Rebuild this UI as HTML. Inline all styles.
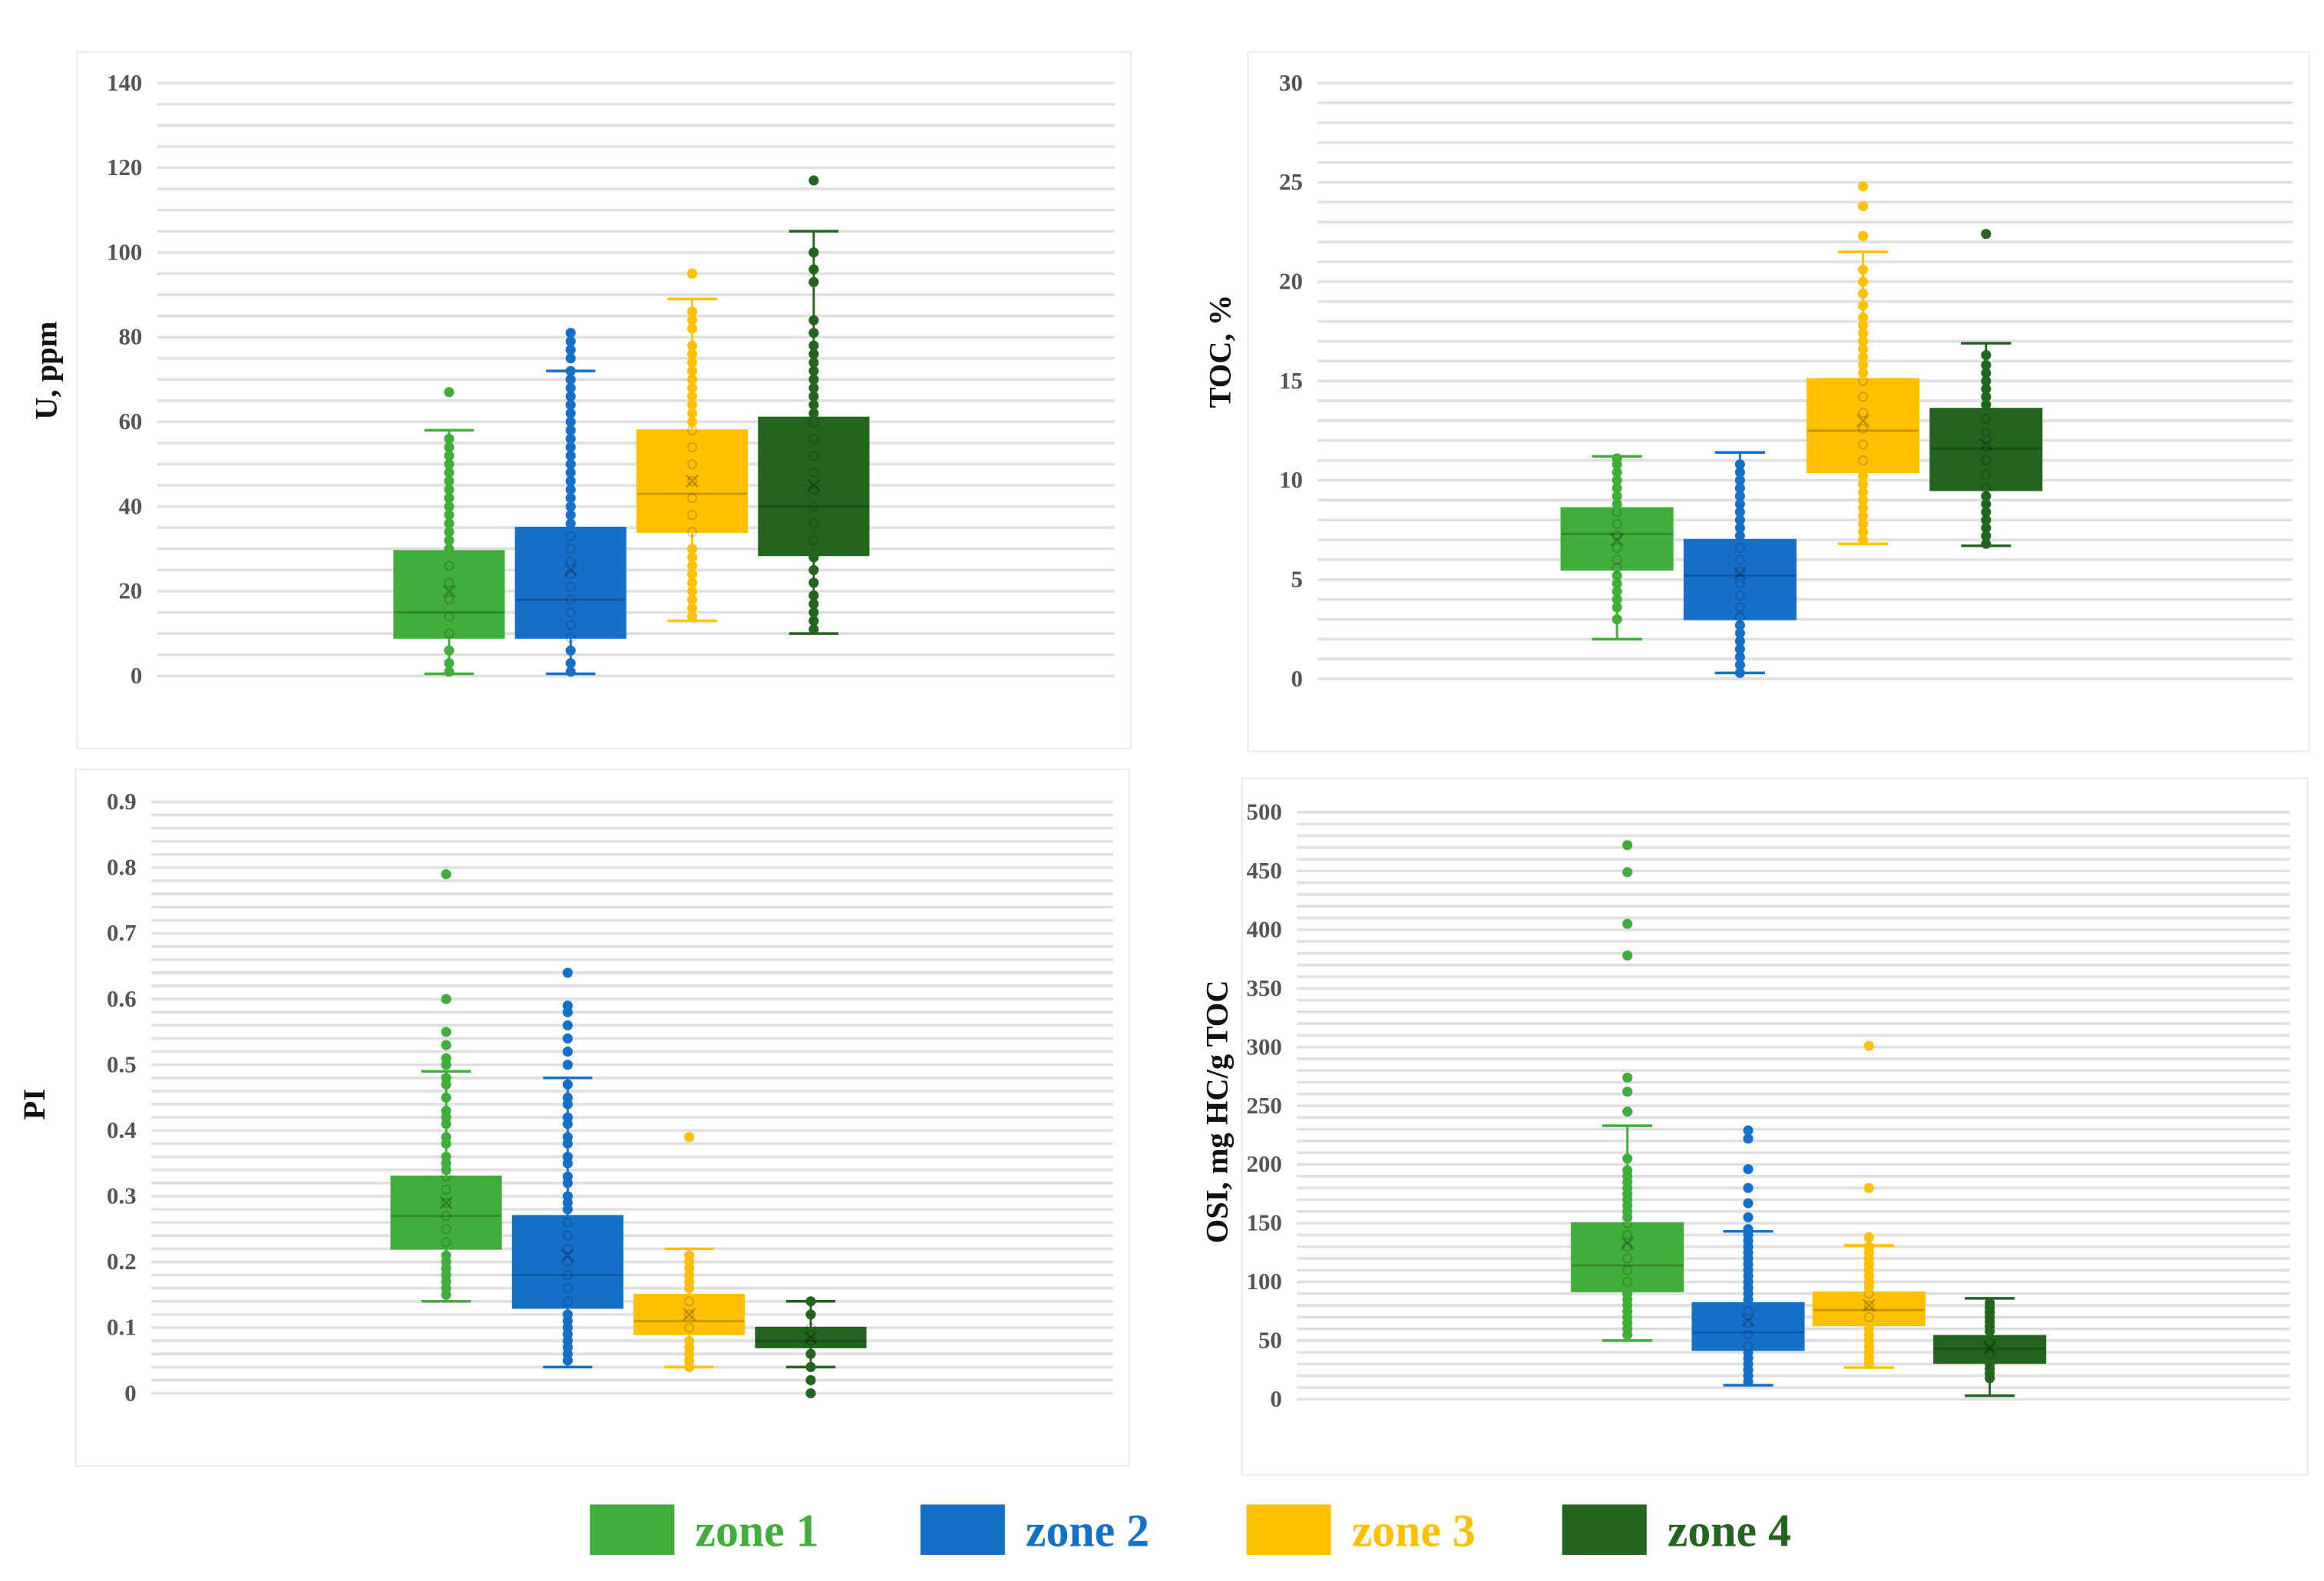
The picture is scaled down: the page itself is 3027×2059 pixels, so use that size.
<!DOCTYPE html>
<html><head><meta charset="utf-8"><title>Zone box plots</title>
<style>html,body{margin:0;padding:0;background:#fff;}svg{display:block;}</style></head>
<body>
<svg id="chart" width="3027" height="2059" viewBox="0 0 1568 1066.6" xmlns="http://www.w3.org/2000/svg"></svg>
<script>
const zones = ["zone 1","zone 2","zone 3","zone 4"];
const colors = ["#41AD3B","#1570C9","#FFC000","#23651F"];
// U, ppm: [min, q1, median, q3, max, mean]
const uStats = [[0.5,9,15,29.5,58,20],[0.5,9,18,35,72,25],[13,34,43,58,89,46],[10,28.5,40,61,105,45]];
const uPoints = [[1,3,6,10,14,18,22,26,30,32,34,36,38,40,42,44,46,48,50,52,54,56,67],[1,3,6,9,12,15,18,21,24,27,30,33,36,38,40,42,44,46,48,50,52,54,56,58,60,62,64,66,68,70,72,75,77,79,81],[14,16,18,20,22,24,26,28,30,34,38,42,46,50,54,58,60,62,64,66,68,70,72,74,76,78,82,84,86,95],[11,13,15,17,19,22,25,28,32,36,40,44,48,52,56,60,62,64,66,68,70,72,74,76,78,81,84,93,96,100,117]];
const uTicks = [0,20,40,60,80,100,120,140];
// TOC, %
const tocStats = [[2,5.5,7.3,8.6,11.2,7],[0.3,3,5.2,7,11.4,5.3],[6.8,10.4,12.5,15.1,21.5,13],[6.7,9.5,11.6,13.6,16.9,11.8]];
const tocPoints = [[3,3.6,4,4.4,4.8,5.2,5.6,6,6.6,7.2,7.8,8.4,8.8,9.2,9.6,10,10.4,10.8,11.1],[0.3,0.7,1.1,1.5,1.9,2.3,2.7,3.1,3.6,4.2,4.8,5.4,6,6.6,7.2,7.6,8,8.4,8.8,9.2,9.6,10,10.4,10.8],[7,7.4,7.8,8.2,8.6,9,9.4,9.8,10.2,11,11.8,12.6,13.4,14.2,15,15.4,15.8,16.2,16.6,17,17.4,17.8,18.2,18.8,19.4,20,20.6,22.3,23.8,24.8],[6.8,7.2,7.6,8,8.4,8.8,9.2,9.6,10.3,11,11.7,12.4,13.1,13.8,14.2,14.6,15,15.4,15.8,16.3,22.4]];
const tocTicks = [0,5,10,15,20,25,30];
// PI
const piStats = [[0.14,0.22,0.27,0.33,0.49,0.29],[0.04,0.13,0.18,0.27,0.48,0.21],[0.04,0.09,0.11,0.15,0.22,0.12],[0.04,0.07,0.08,0.10,0.14,0.085]];
const piPoints = [[0.15,0.16,0.17,0.18,0.19,0.2,0.21,0.23,0.25,0.27,0.29,0.31,0.33,0.34,0.35,0.36,0.38,0.39,0.41,0.42,0.43,0.45,0.47,0.48,0.5,0.51,0.53,0.55,0.6,0.79],[0.05,0.06,0.07,0.08,0.09,0.1,0.11,0.12,0.14,0.16,0.18,0.2,0.22,0.24,0.26,0.28,0.29,0.3,0.32,0.33,0.35,0.36,0.38,0.39,0.41,0.42,0.44,0.45,0.47,0.5,0.52,0.54,0.56,0.58,0.59,0.64],[0.04,0.05,0.06,0.07,0.08,0.1,0.12,0.14,0.16,0.17,0.18,0.19,0.2,0.21,0.39],[0,0.02,0.04,0.06,0.08,0.1,0.12,0.14]];
const piTicks = [0,0.1,0.2,0.3,0.4,0.5,0.6,0.7,0.8,0.9];
// OSI, mg HC/g TOC
const osiStats = [[50,92,114,150,233,133],[12,42,57,82,143,67],[27,63,76,91,131,80],[3,31,43,54,86,44]];
const osiPoints = [[55,60,65,70,75,80,85,90,100,110,120,130,140,150,155,160,165,170,175,180,185,190,195,205,245,262,274,378,405,449,472],[15,20,25,30,35,40,45,55,65,75,85,90,95,100,105,110,115,120,125,130,135,140,145,155,167,180,196,222,229],[30,35,40,45,50,55,60,70,80,90,95,100,105,110,115,120,125,130,138,180,301],[18,22,26,30,38,48,58,62,66,70,74,78,82]];
const osiTicks = [0,50,100,150,200,250,300,350,400,450,500];

const NS = "http://www.w3.org/2000/svg";
const svg = document.getElementById("chart");
function mk(tag, attrs, parent){const e=document.createElementNS(NS,tag);for(const k in attrs)e.setAttribute(k,attrs[k]);(parent||svg).appendChild(e);return e;}

function panel(cfg){
  const g = mk("g",{});
  
  
  const fr = mk("rect",{x:cfg.fx,y:cfg.fy,width:cfg.fw,height:cfg.fh,fill:"#fff",stroke:"#ececec","stroke-width":1.2},g);
  
  
  const ymax = cfg.ticks[cfg.ticks.length-1];
  const y = v => cfg.y0 - (v/ymax)*(cfg.y0-cfg.y1);
  const nMinor = Math.round(ymax/cfg.minor);
  for(let i=0;i<=nMinor;i++){
    const gl = mk("line",{x1:cfg.x0,x2:cfg.x1,y1:y(i*cfg.minor),y2:y(i*cfg.minor),stroke:"#e0e0e0","stroke-width":1.9},g);
    
    
  }
  cfg.ticks.forEach(t=>{
    const tx = mk("text",{x:cfg.x0-10,y:y(t)+5,"text-anchor":"end","font-family":"Liberation Serif, serif","font-size":16,"font-weight":"bold",fill:"#555"},g);
    tx.textContent = cfg.fmt ? cfg.fmt(t) : t;
    
    
  });
  const title = mk("text",{x:0,y:0,transform:`translate(${cfg.tx},${cfg.ty}) rotate(-90)`,"text-anchor":"middle","font-family":"Liberation Serif, serif","font-size":21,"font-weight":"bold",fill:"#111"},g);
  title.textContent = cfg.title;
  
  
  cfg.stats.forEach((s,i)=>{
    const cx = cfg.cx0 + i*cfg.dx, hw = cfg.bw/2, c = colors[i];
    const bg = mk("g",{},g);
    
    
    mk("line",{x1:cx,x2:cx,y1:y(s[0]),y2:y(s[4]),stroke:c,"stroke-width":1.5},bg);
    mk("line",{x1:cx-hw*0.45,x2:cx+hw*0.45,y1:y(s[0]),y2:y(s[0]),stroke:c,"stroke-width":1.8},bg);
    mk("line",{x1:cx-hw*0.45,x2:cx+hw*0.45,y1:y(s[4]),y2:y(s[4]),stroke:c,"stroke-width":1.8},bg);
    mk("rect",{x:cx-hw,y:y(s[3]),width:cfg.bw,height:y(s[1])-y(s[3]),fill:c,stroke:c,"stroke-width":1.2},bg);
    mk("line",{x1:cx-hw,x2:cx+hw,y1:y(s[2]),y2:y(s[2]),stroke:"rgba(0,0,0,0.22)","stroke-width":1.5},bg);
    cfg.points[i].forEach(p=>{
      const inside = p>=s[1] && p<=s[3];
      mk("circle",{cx:cx,cy:y(p),r:2.9,fill:inside?"none":c,stroke:inside?"rgba(0,0,0,0.18)":c,"stroke-width":1},bg);
    });
    const m = y(s[5]);
    mk("path",{d:`M${cx-4},${m-4}L${cx+4},${m+4}M${cx-4},${m+4}L${cx+4},${m-4}`,stroke:"rgba(0,0,0,0.25)","stroke-width":1.3},bg);
  });
}

panel({name:"u-ppm-panel",fx:52,fy:35,fw:711,fh:470,x0:106,x1:752,y0:456,y1:56,ticks:uTicks,minor:5,title:"U, ppm",tx:38,ty:250,stats:uStats,points:uPoints,cx0:303,dx:82,bw:74});
panel({name:"toc-panel",fx:842,fy:35,fw:716,fh:472,x0:889,x1:1547,y0:458,y1:56,ticks:tocTicks,minor:1,title:"TOC, %",tx:830,ty:237,stats:tocStats,points:tocPoints,cx0:1091,dx:83,bw:75});
panel({name:"pi-panel",fx:51,fy:519,fw:711,fh:470,x0:102,x1:751,y0:940,y1:541,ticks:piTicks,minor:0.02,title:"PI",tx:30,ty:745,stats:piStats,points:piPoints,cx0:301,dx:82,bw:74,fmt:t=>t===0?"0":t.toFixed(1)});
panel({name:"osi-panel",fx:838,fy:525,fw:719,fh:470,x0:875,x1:1545,y0:944,y1:548,ticks:osiTicks,minor:10,title:"OSI, mg HC/g TOC",tx:828,ty:750,stats:osiStats,points:osiPoints,cx0:1098,dx:81.5,bw:75});

const legX = [398,621,841,1054];
zones.forEach((z,i)=>{
  const lg = mk("g",{});
  
  
  mk("rect",{x:legX[i],y:1015,width:57,height:34,fill:colors[i]},lg);
  const t = mk("text",{x:legX[i]+71,y:1043,"font-family":"Liberation Serif, serif","font-size":31,"font-weight":"bold",fill:colors[i]},lg);
  t.textContent = z;
});
</script>
</body></html>
